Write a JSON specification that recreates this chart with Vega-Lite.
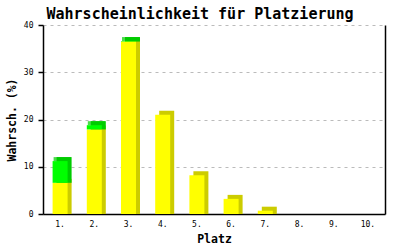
{
  "$schema": "https://vega.github.io/schema/vega-lite/v6.json",
  "width": 342,
  "height": 189,
  "autosize": {"type": "none"},
  "padding": {"left": 43, "top": 25, "right": 15, "bottom": 36},
  "background": "white",
  "config": {"view": {"stroke": null}},
  "title": {
    "text": "Wahrscheinlichkeit für Platzierung",
    "font": "DejaVu Sans Mono",
    "fontSize": 15,
    "fontWeight": "bold",
    "color": "black",
    "frame": "group",
    "anchor": "middle",
    "dx": -14,
    "offset": -1
  },
  "data": {
    "values": [
      {"platz": "1.", "typ": "gelb", "wert": 6.6},
      {"platz": "1.", "typ": "grün", "wert": 4.6},
      {"platz": "2.", "typ": "gelb", "wert": 17.9},
      {"platz": "2.", "typ": "grün", "wert": 0.9},
      {"platz": "3.", "typ": "gelb", "wert": 36.5},
      {"platz": "3.", "typ": "grün", "wert": 0.1},
      {"platz": "4.", "typ": "gelb", "wert": 21.0},
      {"platz": "4.", "typ": "grün", "wert": 0},
      {"platz": "5.", "typ": "gelb", "wert": 8.2},
      {"platz": "5.", "typ": "grün", "wert": 0},
      {"platz": "6.", "typ": "gelb", "wert": 3.2},
      {"platz": "6.", "typ": "grün", "wert": 0},
      {"platz": "7.", "typ": "gelb", "wert": 0.7},
      {"platz": "7.", "typ": "grün", "wert": 0},
      {"platz": "8.", "typ": "gelb", "wert": 0},
      {"platz": "8.", "typ": "grün", "wert": 0},
      {"platz": "9.", "typ": "gelb", "wert": 0},
      {"platz": "9.", "typ": "grün", "wert": 0},
      {"platz": "10.", "typ": "gelb", "wert": 0},
      {"platz": "10.", "typ": "grün", "wert": 0}
    ]
  },
  "transform": [
    {"stack": "wert", "groupby": ["platz"], "sort": [{"field": "typ", "order": "ascending"}], "as": ["v0", "v1"]},
    {"filter": "datum.wert > 0"}
  ],
  "encoding": {
    "x": {
      "field": "platz",
      "type": "nominal",
      "sort": ["1.", "2.", "3.", "4.", "5.", "6.", "7.", "8.", "9.", "10."],
      "scale": {"domain": ["1.", "2.", "3.", "4.", "5.", "6.", "7.", "8.", "9.", "10."], "paddingInner": 0, "paddingOuter": 0},
      "axis": {
        "title": "Platz",
        "titleFont": "DejaVu Sans Mono",
        "titleFontSize": 11.5,
        "titleFontWeight": "bold",
        "titleColor": "black",
        "titlePadding": 5,
        "labelFont": "DejaVu Sans Mono",
        "labelFontSize": 8,
        "labelColor": "black",
        "labelAngle": 0,
        "labelPadding": 6,
        "ticks": false,
        "tickSize": 0,
        "domainColor": "black",
        "domainWidth": 1.5,
        "grid": false
      }
    }
  },
  "layer": [
    {
      "mark": {"type": "bar", "size": 15, "xOffset": 4, "yOffset": -4},
      "encoding": {
        "y": {
          "field": "v1",
          "type": "quantitative",
          "scale": {"domain": [0, 40], "nice": false},
          "axis": {
            "title": "Wahrsch. (%)",
            "titleFont": "DejaVu Sans Mono",
            "titleFontSize": 11.5,
            "titleFontWeight": "bold",
            "titleColor": "black",
            "titlePadding": 6,
            "labelFont": "DejaVu Sans Mono",
            "labelFontSize": 8,
            "labelColor": "black",
            "labelPadding": 5,
            "values": [0, 10, 20, 30, 40],
            "tickColor": "black",
            "tickSize": 5,
            "tickWidth": 1.5,
            "domainColor": "black",
            "domainWidth": 1.5,
            "grid": true,
            "gridColor": "#bbbbbb",
            "gridDash": [3, 4],
            "gridWidth": 1
          }
        },
        "y2": {"field": "v0"},
        "color": {
          "field": "typ",
          "type": "nominal",
          "scale": {"domain": ["gelb", "grün"], "range": ["#cccc00", "#00cc00"]},
          "legend": null
        }
      }
    },
    {
      "transform": [{"filter": "datum.typ == 'grün'"}],
      "mark": {"type": "tick", "orient": "horizontal", "thickness": 4, "size": 17, "xOffset": 2, "yOffset": -2, "color": "#00cc00"},
      "encoding": {
        "y": {
          "field": "v1",
          "type": "quantitative",
          "axis": {
            "orient": "right",
            "title": null,
            "labels": false,
            "ticks": false,
            "grid": false,
            "domainColor": "black",
            "domainWidth": 1.5
          }
        }
      }
    },
    {
      "mark": {"type": "bar", "size": 15},
      "encoding": {
        "y": {"field": "v1", "type": "quantitative", "axis": null},
        "y2": {"field": "v0"},
        "color": {
          "field": "typ",
          "type": "nominal",
          "scale": {"domain": ["gelb", "grün"], "range": ["#ffff00", "#00ff00"]},
          "legend": null
        }
      }
    }
  ],
  "resolve": {"scale": {"color": "independent"}, "axis": {"y": "independent"}}
}
